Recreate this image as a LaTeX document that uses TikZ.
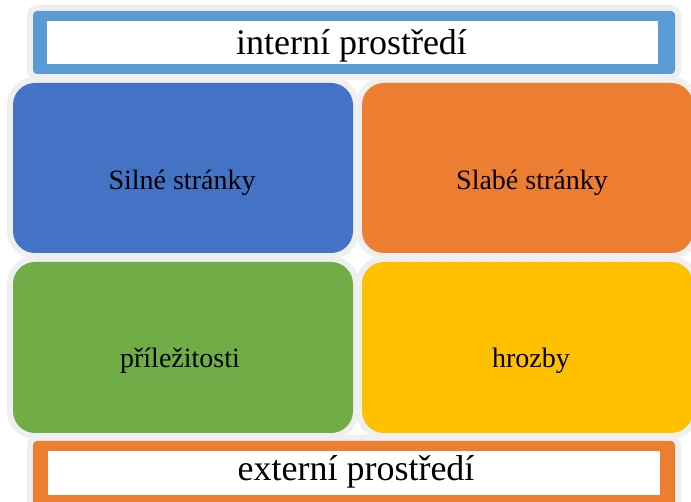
\documentclass[tikz,border=0pt]{standalone}
\usepackage{fontspec}
\setmainfont{Liberation Serif}
\definecolor{halo}{HTML}{EFEFEF}
\definecolor{topblue}{HTML}{5B9BD5}
\definecolor{sblue}{HTML}{4472C4}
\definecolor{sorange}{HTML}{ED7D31}
\definecolor{sgreen}{HTML}{70AD47}
\definecolor{syellow}{HTML}{FFC000}
\begin{document}
\begin{tikzpicture}[x=1pt,y=-1pt,
  haloline/.style={draw=halo,line width=12pt},
  quad/.style={rounded corners=22pt},
  band/.style={rounded corners=4pt},
  lbl/.style={anchor=base,text=black,inner sep=0pt,font=\fontsize{28}{30}\selectfont},
  biglbl/.style={anchor=base,text=black,inner sep=0pt,font=\fontsize{36}{40}\selectfont}]
\useasboundingbox[fill=white] (0,0) rectangle (691,502);
% halos
\path[haloline,band] (33,11) rectangle (675,74);
\path[haloline,band] (33,441) rectangle (675,512);
\path[haloline,quad] (13,83) rectangle (353,253);
\path[haloline,quad] (362,83) rectangle (693,253);
\path[haloline,quad] (13,262) rectangle (353,433);
\path[haloline,quad] (362,262) rectangle (693,433);
% top band
\path[band,fill=topblue] (33,11) rectangle (675,74);
\path[fill=white] (47,21) rectangle (658,64);
% bottom band
\path[band,fill=sorange] (33,441) rectangle (675,512);
\path[fill=white] (48,451) rectangle (660,495);
% quadrants
\path[quad,fill=sblue] (13,83) rectangle (353,253);
\path[quad,fill=sorange] (362,83) rectangle (693,253);
\path[quad,fill=sgreen] (13,262) rectangle (353,433);
\path[quad,fill=syellow] (362,262) rectangle (693,433);
% labels
\node[biglbl] (int) at (351.5,55) {interní prostředí};
\node[lbl] (s) at (182,190) {Silné stránky};
\node[lbl] (w) at (532,190) {Slabé stránky};
\node[lbl] (o) at (180,368) {příležitosti};
\node[lbl] (t) at (531,368) {hrozby};
\node[biglbl] (ext) at (356,481) {externí prostředí};
\end{tikzpicture}
\end{document}
